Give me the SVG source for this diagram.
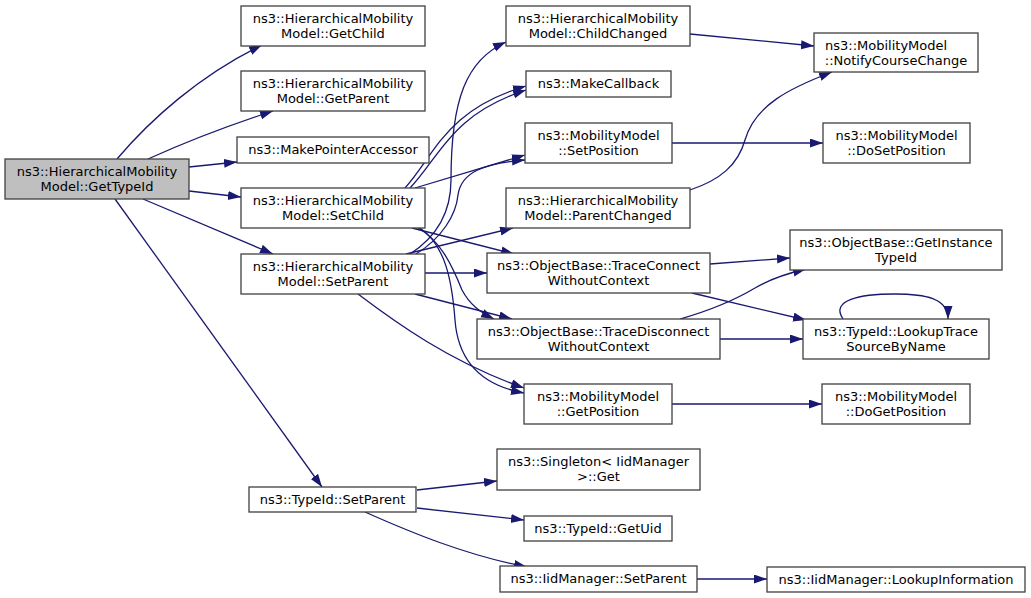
<svg xmlns="http://www.w3.org/2000/svg" width="1031" height="598" viewBox="0 0 1031 598">
<style>
rect{fill:#ffffff;stroke:#404040;stroke-width:1.3}
rect.root{fill:#bfbfbf}
text{font-family:"DejaVu Sans","Liberation Sans",sans-serif;font-size:13px;fill:#000000;text-anchor:middle}
text.l{text-anchor:start}
#edges path{fill:none;stroke:#191970;stroke-width:1.3;marker-end:url(#a)}
</style>
<defs>
<marker id="a" markerWidth="14" markerHeight="10" refX="13" refY="4.5" orient="auto" markerUnits="userSpaceOnUse">
<path d="M0,0 L13,4.5 L0,9 z" fill="#191970"/>
</marker>
</defs>
<g id="edges">
<path d="M117,159 C150,120 200,75 262,45"/>
<path d="M148,159 C190,140 230,125 273,111"/>
<path d="M189,167 L237,162"/>
<path d="M189,191 L241,197"/>
<path d="M143,199 L273,254"/>
<path d="M115,199 L322,487"/>
<path d="M405,188 C435,155 445,110 526,86"/>
<path d="M410,188 C440,157 450,115 526,90"/>
<path d="M415,188 L525,155"/>
<path d="M410,254 C438,236 451,210 451,180 C451,100 466,60 506,42"/>
<path d="M416,254 C442,238 456,215 458,195 C461,172 485,163 525,160"/>
<path d="M406,254 L513,228"/>
<path d="M412,228 L514,254"/>
<path d="M418,228 C440,240 452,265 462,290 C470,305 480,312 494,319"/>
<path d="M420,228 C445,245 452,280 455,320 C458,360 480,385 524,393"/>
<path d="M425,273 L487,273"/>
<path d="M415,294 L512,319"/>
<path d="M358,294 C395,322 450,362 524,388"/>
<path d="M690,34 L814,46"/>
<path d="M690,190 C720,180 738,165 745,140 C755,105 790,88 832,72"/>
<path d="M672,143 L823,143"/>
<path d="M710,264 L790,258"/>
<path d="M692,293 L806,320"/>
<path d="M680,319 C715,309 735,300 755,288 C770,279 785,274 806,269"/>
<path d="M720,339 L803,339"/>
<path d="M843,319 C830,300 860,294 895,294 C925,294 948,298 948,319"/>
<path d="M672,404 L822,404"/>
<path d="M417,490 L497,481"/>
<path d="M417,508 L524,520"/>
<path d="M365,512 C410,532 465,555 527,567"/>
<path d="M697,579 L767,579"/>
</g>
<g id="n_GetTypeId"><rect class="root" x="5" y="159" width="184" height="40"/><text x="97" y="176">ns3::HierarchicalMobility</text><text x="97" y="191">Model::GetTypeId</text></g>
<g id="n_GetChild"><rect x="241" y="6" width="184" height="40"/><text x="333" y="23">ns3::HierarchicalMobility</text><text x="333" y="38">Model::GetChild</text></g>
<g id="n_GetParent"><rect x="241" y="71" width="184" height="40"/><text x="333" y="88">ns3::HierarchicalMobility</text><text x="333" y="103">Model::GetParent</text></g>
<g id="n_MakePointerAccessor"><rect x="237" y="137" width="192" height="26"/><text x="333" y="154">ns3::MakePointerAccessor</text></g>
<g id="n_SetChild"><rect x="241" y="188" width="184" height="40"/><text x="333" y="205">ns3::HierarchicalMobility</text><text x="333" y="220">Model::SetChild</text></g>
<g id="n_SetParent"><rect x="241" y="254" width="184" height="40"/><text x="333" y="271">ns3::HierarchicalMobility</text><text x="333" y="286">Model::SetParent</text></g>
<g id="n_TypeIdSetParent"><rect x="249" y="487" width="167" height="25"/><text x="332.5" y="504">ns3::TypeId::SetParent</text></g>
<g id="n_ChildChanged"><rect x="506" y="6" width="184" height="40"/><text x="598" y="23">ns3::HierarchicalMobility</text><text x="598" y="38">Model::ChildChanged</text></g>
<g id="n_MakeCallback"><rect x="526" y="71" width="145" height="26"/><text x="598.5" y="88">ns3::MakeCallback</text></g>
<g id="n_SetPosition"><rect x="525" y="123" width="147" height="40"/><text x="598.5" y="140">ns3::MobilityModel</text><text x="598.5" y="155">::SetPosition</text></g>
<g id="n_ParentChanged"><rect x="506" y="188" width="184" height="40"/><text x="598" y="205">ns3::HierarchicalMobility</text><text x="598" y="220">Model::ParentChanged</text></g>
<g id="n_TraceConnect"><rect x="487" y="253" width="223" height="40"/><text x="598.5" y="270">ns3::ObjectBase::TraceConnect</text><text x="598.5" y="285">WithoutContext</text></g>
<g id="n_TraceDisconnect"><rect x="477" y="319" width="243" height="40"/><text x="598.5" y="336">ns3::ObjectBase::TraceDisconnect</text><text x="598.5" y="351">WithoutContext</text></g>
<g id="n_GetPosition"><rect x="524" y="384" width="148" height="40"/><text x="598" y="401">ns3::MobilityModel</text><text x="598" y="416">::GetPosition</text></g>
<g id="n_SingletonGet"><rect x="497" y="449" width="203" height="41"/><text x="598.5" y="466">ns3::Singleton&lt; IidManager</text><text x="598.5" y="481">&gt;::Get</text></g>
<g id="n_GetUid"><rect x="524" y="516" width="148" height="25"/><text x="598" y="533">ns3::TypeId::GetUid</text></g>
<g id="n_IidSetParent"><rect x="500" y="566" width="197" height="26"/><text x="598.5" y="583">ns3::IidManager::SetParent</text></g>
<g id="n_NotifyCourseChange"><rect x="814" y="33" width="164" height="39"/><text class="l" x="825" y="50">ns3::MobilityModel</text><text x="896" y="65">::NotifyCourseChange</text></g>
<g id="n_DoSetPosition"><rect x="823" y="123" width="147" height="40"/><text x="896.5" y="140">ns3::MobilityModel</text><text x="896.5" y="155">::DoSetPosition</text></g>
<g id="n_GetInstanceTypeId"><rect x="790" y="230" width="212" height="40"/><text x="896" y="247">ns3::ObjectBase::GetInstance</text><text x="896" y="262">TypeId</text></g>
<g id="n_LookupTraceSourceByName"><rect x="803" y="319" width="186" height="40"/><text x="896" y="336">ns3::TypeId::LookupTrace</text><text x="896" y="351">SourceByName</text></g>
<g id="n_DoGetPosition"><rect x="822" y="384" width="148" height="40"/><text x="896" y="401">ns3::MobilityModel</text><text x="896" y="416">::DoGetPosition</text></g>
<g id="n_LookupInformation"><rect x="767" y="567" width="258" height="25"/><text x="896" y="584">ns3::IidManager::LookupInformation</text></g>
</svg>
